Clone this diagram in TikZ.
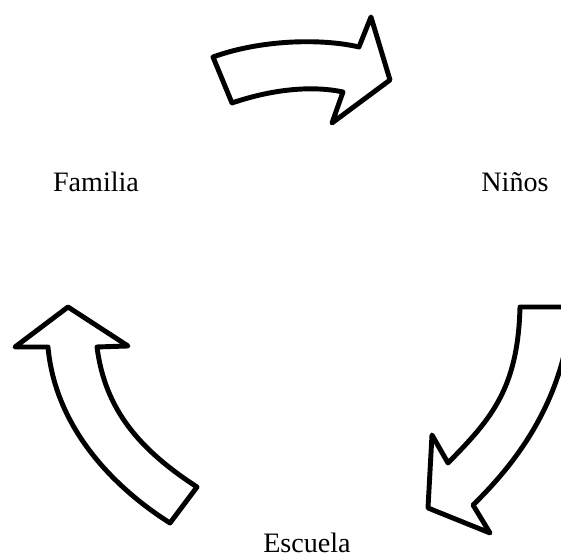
\documentclass[tikz,border=0pt]{standalone}
\usepackage{fontspec}
\setmainfont{Liberation Serif}
\usetikzlibrary{arrows.meta}
\tikzset{
    bigarrow/.style = {draw=black, fill=white, line width=2.1pt, line join=round},
    label/.style = {anchor=base, font=\fontsize{12}{14}\selectfont, inner sep=0pt}
}

\begin{document}
\begin{tikzpicture}[line cap=round,line join=round,x=0.15mm,y=-0.15mm]
\useasboundingbox (0,0) rectangle (561,557);

% top arrow
\draw [bigarrow] (213,57) .. controls (260,40) and (320,38) .. (359,47) -- (371,17) -- (390,80)
    -- (332,123) -- (343,92) .. controls (310,85) and (270,90) .. (232,103) -- cycle;

% right arrow
\draw [bigarrow] (520,307) -- (572,307) .. controls (566,375) and (540,440) .. (473,505)
    -- (490,533) -- (428,508) -- (432,435) -- (448,463) .. controls (490,420) and (518,390) .. cycle;

% left arrow
\draw [bigarrow] (68,307) -- (128,346) -- (97,347) .. controls (105,410) and (140,450) .. (197,487)
    -- (170,523) .. controls (110,485) and (55,425) .. (48,347) -- (15,347) -- cycle;

\node [label] (familia) at (96,192) {Familia};
\node [label] (ninos) at (515,192) {Niños};
\node [label] (escuela) at (307,553) {Escuela};
\end{tikzpicture}
\end{document}
